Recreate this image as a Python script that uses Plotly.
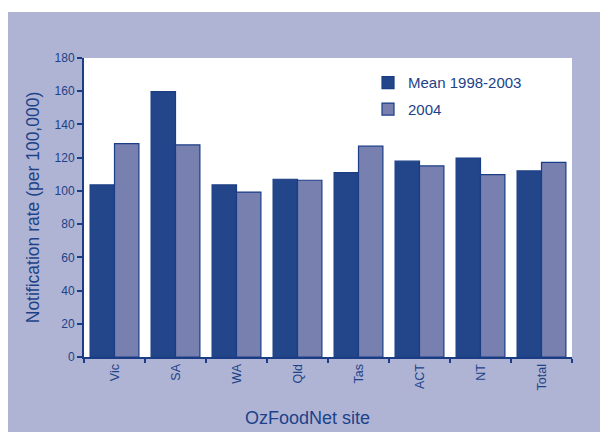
import plotly.graph_objects as go

sites = ["Vic", "SA", "WA", "Qld", "Tas", "ACT", "NT", "Total"]
mean_9803 = [103.6, 159.8, 103.6, 107.0, 111.0, 117.9, 119.8, 112.0]
rate_2004 = [128.5, 127.7, 99.3, 106.4, 126.9, 115.0, 109.8, 117.2]
y_ticks = [0, 20, 40, 60, 80, 100, 120, 140, 160, 180]

txt = "#1c4289"
edge = "#1a3d85"

# page body has an 8px margin, so the figure sits at (8, 8)
W, H = 600, 424
L, R, T, B = 76, 36, 50, 75
pw, ph = W - L - R, H - T - B

fig = go.Figure()
fig.add_trace(go.Bar(
    x=sites, y=mean_9803, name="Mean 1998-2003", legendgroup="a",
    marker=dict(color="#23468a", line=dict(color=edge, width=1.2)),
))
fig.add_trace(go.Bar(
    x=sites, y=rate_2004, name="2004", legendgroup="b",
    marker=dict(color="#7880b0", line=dict(color=edge, width=1.2)),
))

fig.update_layout(
    width=W, height=H,
    barmode="group", bargap=0.2, bargroupgap=0,
    paper_bgcolor="#b0b4d4", plot_bgcolor="#ffffff",
    margin=dict(l=L, r=R, t=T, b=B),
    font=dict(family="Liberation Sans, Arial, sans-serif", color=txt),
    legend=dict(
        x=0.582, y=0.972, xanchor="left", yanchor="top",
        bgcolor="rgba(0,0,0,0)", font=dict(size=15, color=txt),
        traceorder="grouped", tracegroupgap=4, itemwidth=30,
    ),
    shapes=[
        # thin white strip along the top edge
        dict(type="rect", xref="paper", yref="paper", layer="below",
             x0=-L / pw - 0.01, x1=1 + R / pw + 0.01,
             y0=1 + (T - 4) / ph, y1=1 + T / ph + 0.01,
             fillcolor="#ffffff", line=dict(width=0)),
    ],
    annotations=[
        dict(text="OzFoodNet site", xref="paper", yref="paper",
             x=(307 - 84) / pw, y=(357 - 418) / ph, xanchor="center", yanchor="middle",
             showarrow=False, font=dict(size=18, color=txt)),
    ],
)

fig.update_xaxes(
    tickangle=-90, tickfont=dict(size=12.5, color=txt),
    showline=True, linecolor=edge, linewidth=2,
    ticks="outside", tickson="boundaries", ticklen=4, tickcolor=edge, tickwidth=1.5,
    showgrid=False,
)
fig.update_yaxes(
    range=[0, 180], tickvals=y_ticks,
    tickfont=dict(size=12, color=txt),
    showline=True, linecolor=edge, linewidth=2,
    ticks="outside", ticklen=5, tickcolor=edge, tickwidth=1.5,
    title=dict(text="Notification rate (per 100,000)", font=dict(size=17.5, color=txt), standoff=10),
    showgrid=False, zeroline=False,
)

fig.write_html("out.html")
